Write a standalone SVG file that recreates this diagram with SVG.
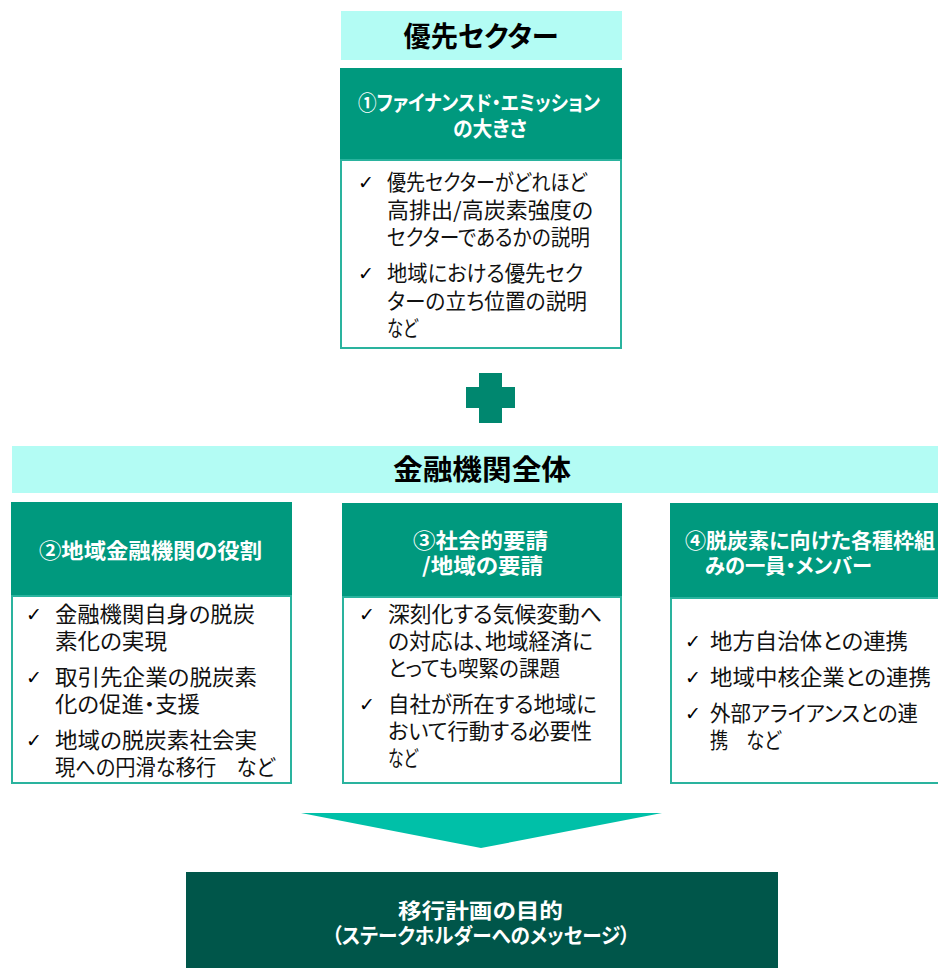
<svg xmlns="http://www.w3.org/2000/svg" width="938" height="968" viewBox="0 0 938 968">
<style>
text{font-family:"Noto Sans CJK JP","Noto Sans",sans-serif;font-feature-settings:"palt";}
.banner{fill:#B3FCF4;}
.title{font-size:28px;font-weight:700;fill:#000;text-anchor:middle;}
.head{fill:#00997E;}
.htxt{font-size:21px;font-weight:700;fill:#fff;}
.body{fill:#fff;stroke:#2AB39E;stroke-width:2;}
.btxt{font-size:21.5px;fill:#111;}
.chk{font-family:"DejaVu Sans",sans-serif;font-size:19px;fill:#000;}
.mid{text-anchor:middle;}
</style>
<rect width="938" height="968" fill="#fff"/>

<g id="priority-sector">
<rect class="banner" x="341" y="11" width="281" height="49"/>
<text class="title" x="481" y="47" textLength="155" lengthAdjust="spacingAndGlyphs">優先セクター</text>
</g>

<g id="box1">
<rect class="head" x="340" y="68" width="282" height="92"/>
<text class="htxt mid" x="479" y="109.5" textLength="242" lengthAdjust="spacingAndGlyphs">①ファイナンスド・エミッション</text>
<text class="htxt mid" x="490" y="135.5" textLength="74" lengthAdjust="spacingAndGlyphs">の大きさ</text>
<rect class="body" x="341" y="160" width="280" height="188"/>
<text class="chk" x="358" y="189">✓</text>
<text class="btxt" x="387" y="189.5" textLength="200" lengthAdjust="spacingAndGlyphs">優先セクターがどれほど</text>
<text class="btxt" x="387" y="217.5" textLength="206" lengthAdjust="spacingAndGlyphs">高排出/高炭素強度の</text>
<text class="btxt" x="387" y="244.5" textLength="203" lengthAdjust="spacingAndGlyphs">セクターであるかの説明</text>
<text class="chk" x="358" y="280">✓</text>
<text class="btxt" x="387" y="280.5" textLength="196" lengthAdjust="spacingAndGlyphs">地域における優先セク</text>
<text class="btxt" x="387" y="308.5" textLength="200" lengthAdjust="spacingAndGlyphs">ターの立ち位置の説明</text>
<text class="btxt" x="387" y="335.5" textLength="31" lengthAdjust="spacingAndGlyphs">など</text>
</g>

<g id="plus">
<rect x="479" y="373" width="23" height="50" fill="#00876F"/>
<rect x="466" y="387" width="49" height="21" fill="#00876F"/>
</g>

<g id="financial-institution">
<rect class="banner" x="12" y="446" width="926" height="47"/>
<text class="title" x="482" y="480" textLength="178" lengthAdjust="spacingAndGlyphs">金融機関全体</text>
</g>

<g id="box2">
<rect class="head" x="11" y="502" width="281" height="94"/>
<text class="htxt mid" x="150.5" y="557.5" textLength="223" lengthAdjust="spacingAndGlyphs">②地域金融機関の役割</text>
<rect class="body" x="12" y="596" width="279" height="187"/>
<text class="chk" x="26" y="621">✓</text>
<text class="btxt" x="55" y="621.5" textLength="200" lengthAdjust="spacingAndGlyphs">金融機関自身の脱炭</text>
<text class="btxt" x="55" y="648.5" textLength="112" lengthAdjust="spacingAndGlyphs">素化の実現</text>
<text class="chk" x="26" y="684">✓</text>
<text class="btxt" x="55" y="684.5" textLength="202" lengthAdjust="spacingAndGlyphs">取引先企業の脱炭素</text>
<text class="btxt" x="55" y="711.5" textLength="145" lengthAdjust="spacingAndGlyphs">化の促進・支援</text>
<text class="chk" x="26" y="747">✓</text>
<text class="btxt" x="55" y="747.5" textLength="202" lengthAdjust="spacingAndGlyphs">地域の脱炭素社会実</text>
<text class="btxt" x="55" y="774.5" textLength="220" lengthAdjust="spacingAndGlyphs">現への円滑な移行　など</text>
</g>

<g id="box3">
<rect class="head" x="342" y="503" width="280" height="94"/>
<text class="htxt mid" x="480.5" y="547.5" textLength="135" lengthAdjust="spacingAndGlyphs">③社会的要請</text>
<text class="htxt mid" x="482.5" y="572.5" textLength="121" lengthAdjust="spacingAndGlyphs">/地域の要請</text>
<rect class="body" x="343" y="597" width="278" height="186"/>
<text class="chk" x="359" y="621">✓</text>
<text class="btxt" x="388" y="621.5" textLength="214" lengthAdjust="spacingAndGlyphs">深刻化する気候変動へ</text>
<text class="btxt" x="388" y="648.5" textLength="205" lengthAdjust="spacingAndGlyphs">の対応は、地域経済に</text>
<text class="btxt" x="388" y="675.5" textLength="172" lengthAdjust="spacingAndGlyphs">とっても喫緊の課題</text>
<text class="chk" x="359" y="711">✓</text>
<text class="btxt" x="388" y="711.5" textLength="209" lengthAdjust="spacingAndGlyphs">自社が所在する地域に</text>
<text class="btxt" x="388" y="738.5" textLength="204" lengthAdjust="spacingAndGlyphs">おいて行動する必要性</text>
<text class="btxt" x="388" y="765.5" textLength="30" lengthAdjust="spacingAndGlyphs">など</text>
</g>

<g id="box4">
<rect class="head" x="670" y="503" width="270" height="95"/>
<text class="htxt" x="685" y="547.5" textLength="250" lengthAdjust="spacingAndGlyphs">④脱炭素に向けた各種枠組</text>
<text class="htxt" x="705" y="572.5" textLength="167" lengthAdjust="spacingAndGlyphs">みの一員・メンバー</text>
<rect class="body" x="671" y="598" width="272" height="185"/>
<text class="chk" x="685" y="648">✓</text>
<text class="btxt" x="710" y="648.5" textLength="198" lengthAdjust="spacingAndGlyphs">地方自治体との連携</text>
<text class="chk" x="685" y="684">✓</text>
<text class="btxt" x="710" y="684.5" textLength="221" lengthAdjust="spacingAndGlyphs">地域中核企業との連携</text>
<text class="chk" x="685" y="720">✓</text>
<text class="btxt" x="710" y="720.5" textLength="208" lengthAdjust="spacingAndGlyphs">外部アライアンスとの連</text>
<text class="btxt" x="710" y="747.5" textLength="71" lengthAdjust="spacingAndGlyphs">携　など</text>
</g>

<g id="connectors">
<polygon points="301,813 662,813 481,848" fill="#00C0A8"/>
</g>

<g id="purpose">
<rect x="186" y="872" width="592" height="96" fill="#00564A"/>
<text class="htxt mid" x="480.5" y="918" style="font-size:21px" textLength="165" lengthAdjust="spacingAndGlyphs">移行計画の目的</text>
<text class="htxt mid" x="481" y="943" style="font-size:21px" textLength="298" lengthAdjust="spacingAndGlyphs">（ステークホルダーへのメッセージ）</text>
</g>
</svg>
